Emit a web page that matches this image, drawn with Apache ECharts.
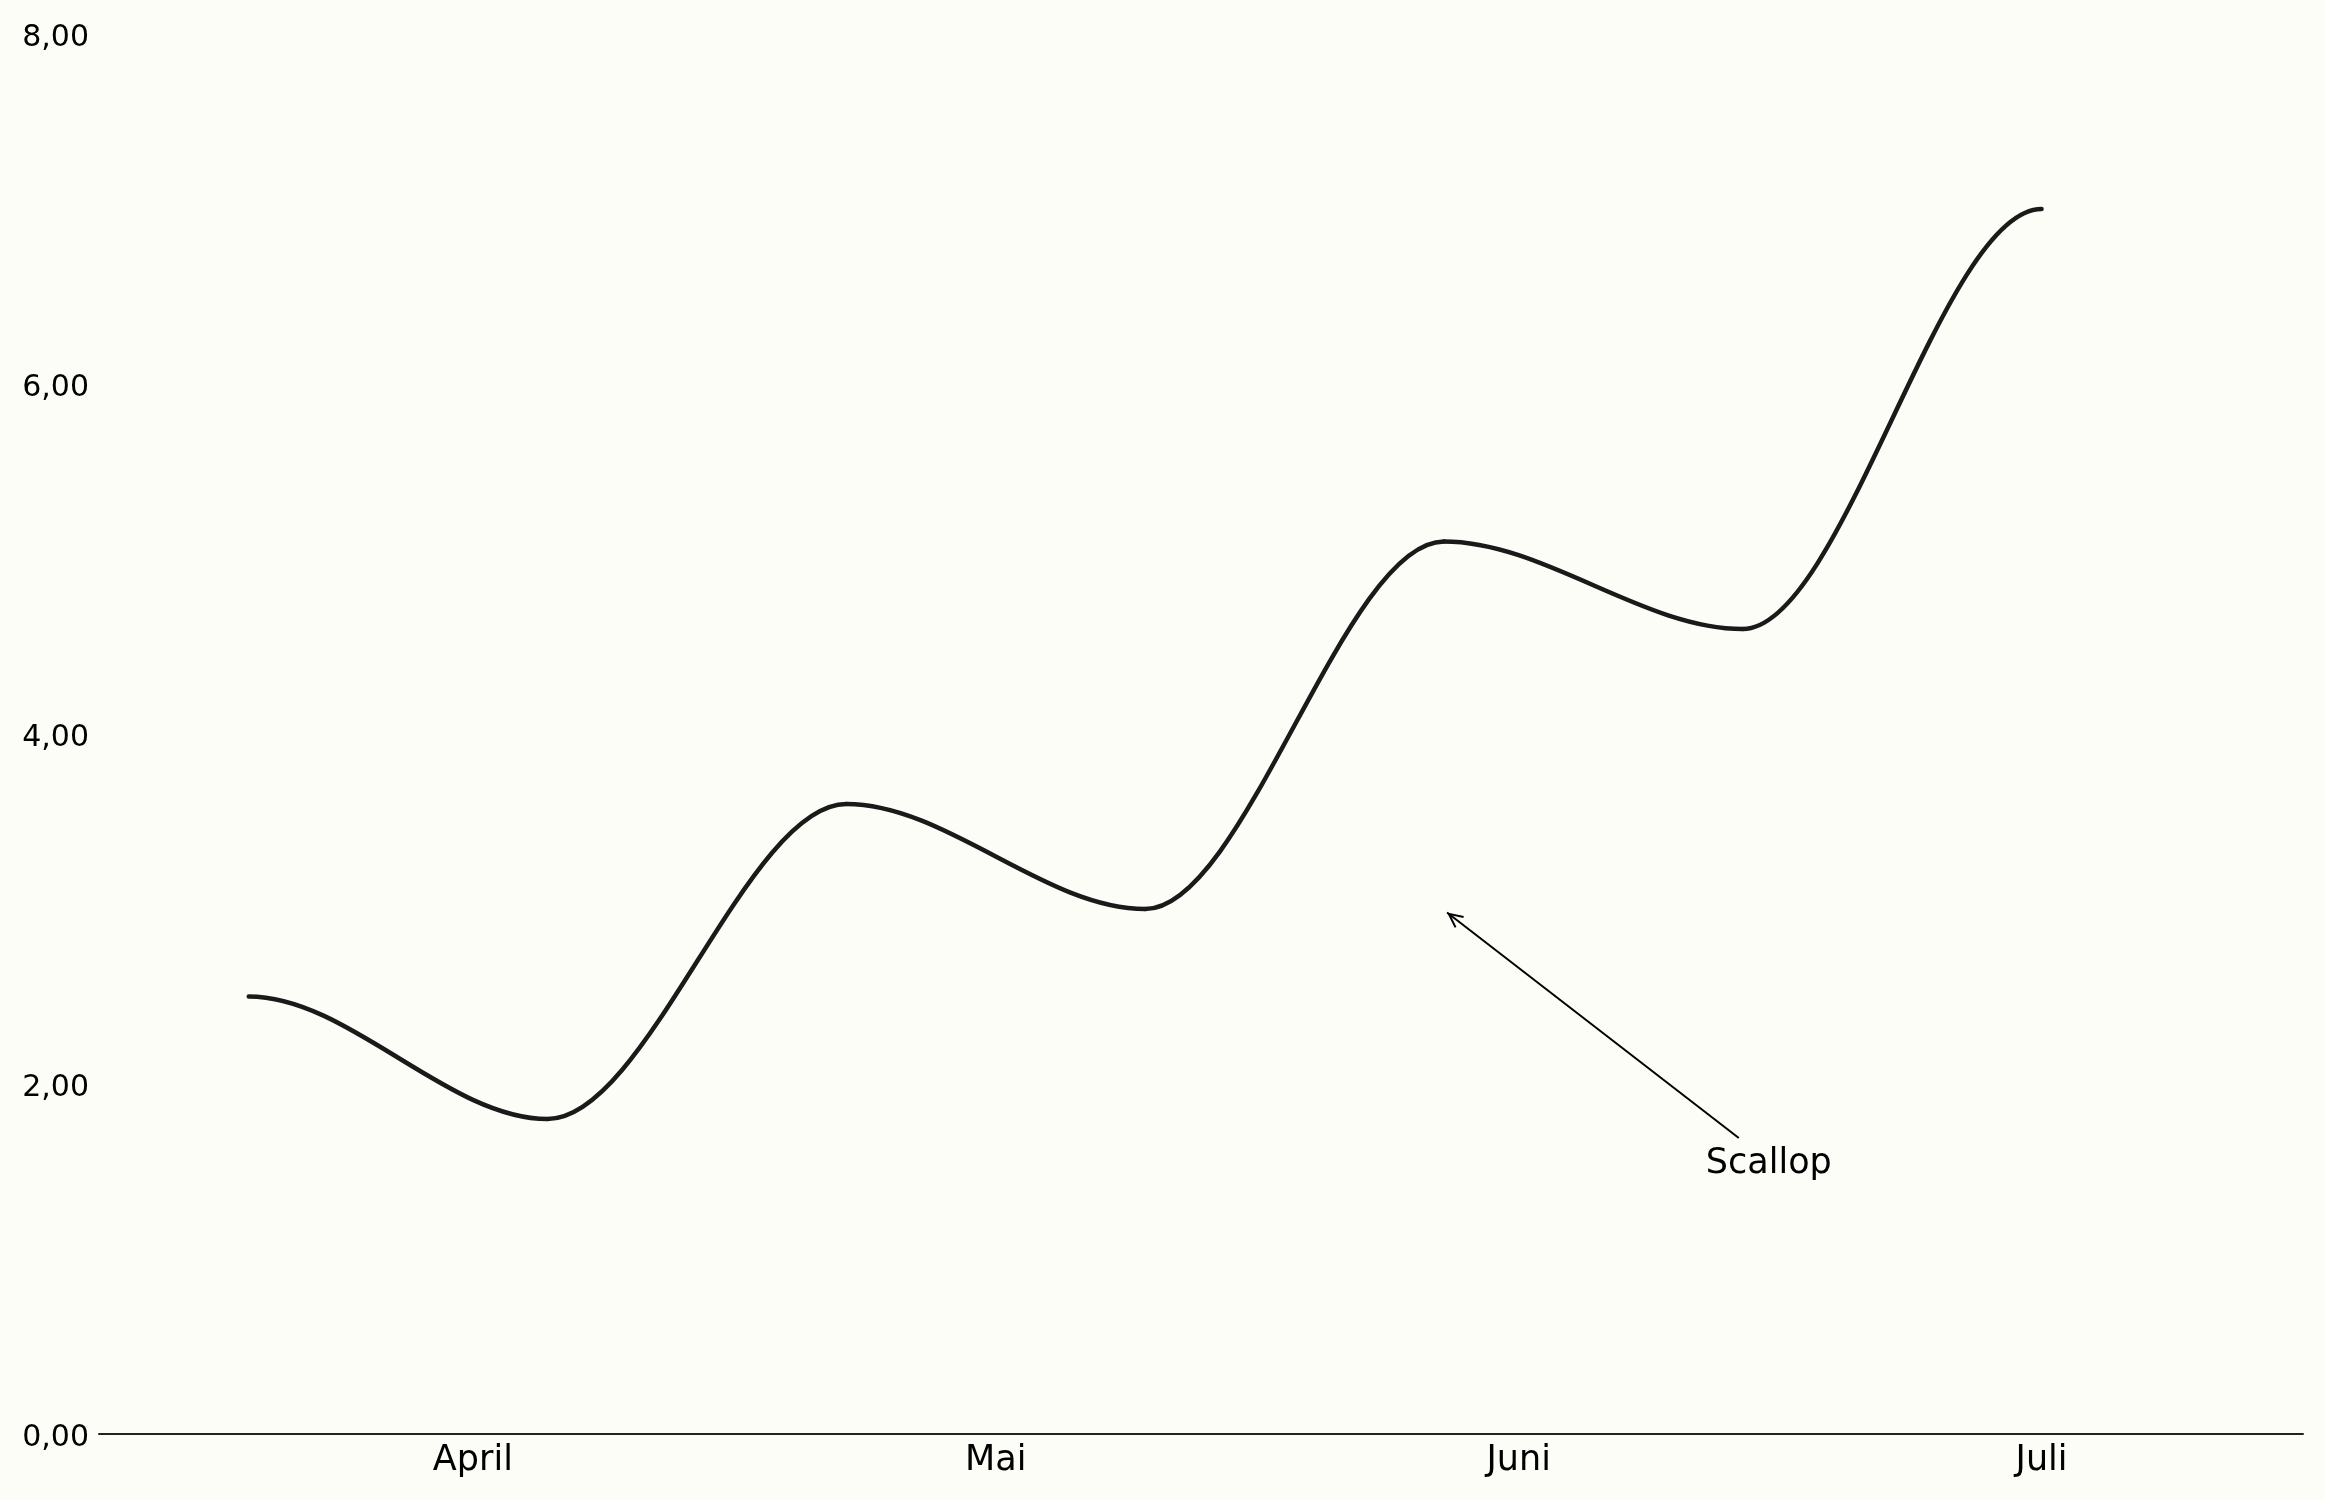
<!DOCTYPE html>
<html>
<head>
<meta charset="utf-8">
<script src="https://cdn.jsdelivr.net/npm/echarts@6/dist/echarts.min.js"></script>
<style>
html,body{margin:0;padding:0;background:#fdfdf7;}
#chart{width:2325px;height:1500px;}
</style>
</head>
<body>
<div id="chart"></div>
<script>
// x positions in month units (1 = April, 2 = Mai, 3 = Juni, 4 = Juli)
const xValues = [0.5714, 1.1429, 1.7143, 2.2857, 2.8571, 3.4286, 4.0];
const yValues = [2.5, 1.8, 3.6, 3.0, 5.1, 4.6, 7.0];
const monthTicks = [1, 2, 3, 4];
const monthLabels = ['April', 'Mai', 'Juni', 'Juli'];
const yTicks = [0, 2, 4, 6, 8];
const annotationText = 'Scallop';
const annotationArrowFrom = [3.421, 1.691];
const annotationArrowTo = [2.863, 2.98];
const annotationTextAt = [3.358, 1.5];

const chart = echarts.init(document.getElementById('chart'), null, {renderer: 'canvas'});

// one segment per pair of neighbouring knots
const segData = [];
for (let i = 0; i < xValues.length - 1; i++) {
  segData.push([xValues[i], yValues[i], xValues[i + 1], yValues[i + 1]]);
}

function renderSegment(params, api) {
  const p0 = api.coord([api.value(0), api.value(1)]);
  const p1 = api.coord([api.value(2), api.value(3)]);
  const dx = p1[0] - p0[0];
  return {
    type: 'bezierCurve',
    shape: {
      x1: p0[0], y1: p0[1],
      x2: p1[0], y2: p1[1],
      cpx1: p0[0] + dx / 3, cpy1: p0[1],
      cpx2: p0[0] + 2 * dx / 3, cpy2: p1[1]
    },
    style: {stroke: '#1a1a1a', lineWidth: 4.5, fill: null, lineCap: 'round'}
  };
}

chart.setOption({
  backgroundColor: '#fdfdf7',
  animation: false,
  textStyle: {fontFamily: 'DejaVu Sans'},
  grid: {left: 99, right: 22, top: 34, bottom: 66, containLabel: false},
  xAxis: {
    type: 'value',
    min: 0.285,
    max: 4.5,
    axisLine: {show: true, onZero: false, lineStyle: {color: '#222222', width: 2}},
    axisTick: {show: false},
    splitLine: {show: false},
    axisLabel: {
      customValues: monthTicks,
      formatter: v => monthLabels[monthTicks.indexOf(Math.round(v))] || '',
      fontSize: 35,
      color: '#000000',
      margin: 9,
      fontFamily: 'DejaVu Sans'
    }
  },
  yAxis: {
    type: 'value',
    min: yTicks[0],
    max: yTicks[yTicks.length - 1],
    interval: 2,
    axisLine: {show: false},
    axisTick: {show: false},
    splitLine: {show: false},
    axisLabel: {
      formatter: v => '{v|' + v.toFixed(2).replace('.', ',') + '}',
      rich: {v: {fontSize: 30, color: '#000000', fontFamily: 'DejaVu Sans', padding: [8, 0, 0, 0]}},
      fontSize: 30,
      color: '#000000',
      margin: 10,
      fontFamily: 'DejaVu Sans'
    }
  },
  series: [
    {
      type: 'custom',
      data: segData,
      encode: {x: [0, 2], y: [1, 3]},
      renderItem: renderSegment,
      silent: true
    },
    {
      type: 'scatter',
      data: [annotationTextAt],
      symbolSize: 1,
      itemStyle: {color: 'rgba(0,0,0,0)', opacity: 1},
      silent: true,
      label: {
        show: true,
        formatter: annotationText,
        position: 'inside',
        align: 'left',
        verticalAlign: 'middle',
        offset: [0, -8],
        fontSize: 35,
        color: '#000000',
        opacity: 1,
        fontFamily: 'DejaVu Sans'
      },
      markLine: {
        silent: true,
        symbol: ['none', 'path://M0,-16.3 M0,0 L7.5,15.4 L5.7,16.3 L0,4.6 L-5.7,16.3 L-7.5,15.4 Z'],
        symbolSize: [15, 32.6],
        label: {show: false},
        lineStyle: {color: '#000000', width: 2, type: 'solid', opacity: 1},
        data: [[{coord: annotationArrowFrom}, {coord: annotationArrowTo}]]
      }
    }
  ]
});
</script>
</body>
</html>
